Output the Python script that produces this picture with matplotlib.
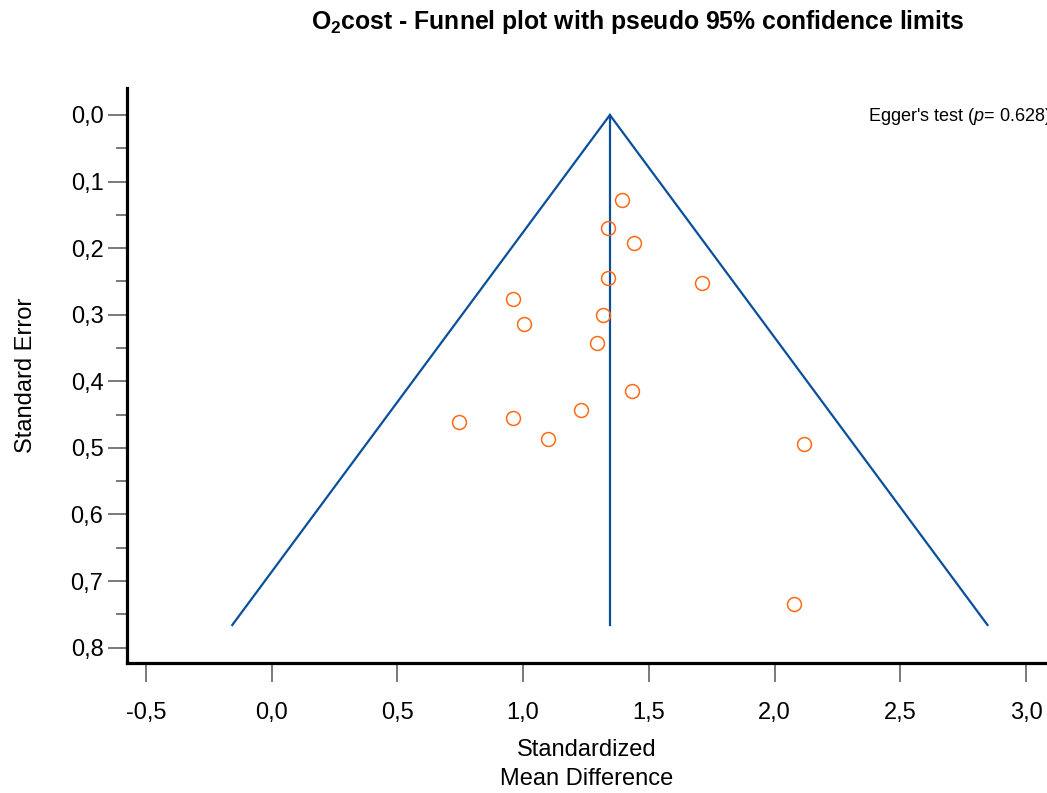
import numpy as np
import matplotlib.pyplot as plt

plt.rcParams['font.family'] = ['Liberation Sans', 'DejaVu Sans']
plt.rcParams['mathtext.fontset'] = 'custom'
plt.rcParams['mathtext.rm'] = 'Liberation Sans:bold'
plt.rcParams['mathtext.it'] = 'Liberation Sans:italic'
plt.rcParams['mathtext.bf'] = 'Liberation Sans:bold'

# study effect sizes (SMD) and standard errors
smd = [1.395, 1.337, 1.440, 1.337, 1.712, 0.959, 1.003, 1.319, 1.293,
       1.432, 1.229, 0.961, 0.744, 1.097, 2.117, 2.077]
se = [0.127, 0.169, 0.192, 0.245, 0.253, 0.276, 0.314, 0.300, 0.342,
      0.415, 0.443, 0.455, 0.461, 0.486, 0.494, 0.734]

pooled = 1.345
se_max = 0.766
xticks = [-0.5, 0.0, 0.5, 1.0, 1.5, 2.0, 2.5, 3.0]
yticks = [0.0, 0.1, 0.2, 0.3, 0.4, 0.5, 0.6, 0.7, 0.8]

fig = plt.figure(figsize=(10.47, 7.93), dpi=100)
ax = fig.add_axes([0.1213, 0.164, 0.8787, 0.725])

blue = '#0a4f9c'
# funnel: pseudo 95% limits and pooled estimate
ax.plot([pooled - 1.96 * se_max, pooled, pooled + 1.96 * se_max],
        [se_max, 0, se_max], color=blue, lw=1.6, solid_joinstyle='miter')
ax.plot([pooled, pooled], [0, se_max], color=blue, lw=1.6)

ax.plot(smd, se, 'o', mfc='none', mec='#ff6a13', ms=10, mew=1.1)

ax.set_xlim(-0.575, 3.083)
ax.set_ylim(0.823, -0.0405)

ax.set_xticks(xticks)
ax.set_xticklabels([('%.1f' % v).replace('.', ',') for v in xticks])
ax.set_yticks(yticks)
ax.set_yticklabels([('%.1f' % v).replace('.', ',') for v in yticks])
ax.set_yticks(np.arange(0.05, 0.8, 0.1), minor=True)

for s in ['top', 'right']:
    ax.spines[s].set_visible(False)
for s in ['left', 'bottom']:
    ax.spines[s].set_linewidth(2.3)
    ax.spines[s].set_capstyle('projecting')

ax.tick_params(axis='y', which='major', length=14, width=1.1, color='#555555',
               labelsize=17, pad=3)
ax.tick_params(axis='y', which='minor', length=8, width=1.1, color='#555555')
ax.tick_params(axis='x', which='major', length=14, width=1.1, color='#555555',
               labelsize=17, pad=14)

ax.set_xlabel('Standardized\nMean Difference', fontsize=17, labelpad=11,
              linespacing=1.4)
ax.set_ylabel('Standard Error', fontsize=17, labelpad=24)

fig.text(0.609, 0.972, 'O$_2$cost - Funnel plot with pseudo 95% confidence limits',
         ha='center', va='center', fontsize=17.8, fontweight='bold')

ax.text(2.372, 0.003, "Egger's test ($p$= 0.628)", fontsize=13,
        ha='left', va='center', clip_on=False)

fig.savefig('out.png', dpi=100)
